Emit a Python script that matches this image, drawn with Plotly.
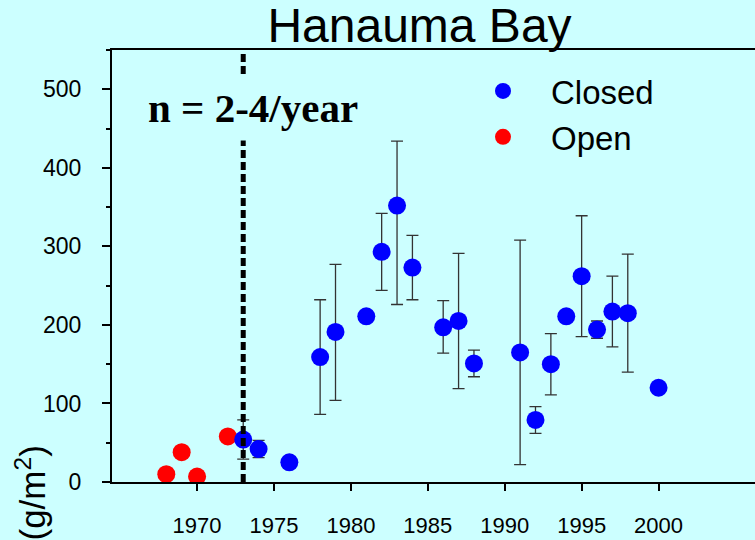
import plotly.graph_objects as go

# ---- data ----
closed_years = [1973, 1974, 1976, 1978, 1979, 1981, 1982, 1983, 1984, 1986, 1987,
                1988, 1991, 1992, 1993, 1994, 1995, 1996, 1997, 1998, 2000]
closed_vals = [54, 42, 25, 159, 191, 211, 293, 352, 273, 197, 205,
               151, 165, 79, 150, 211, 262, 194, 217, 215, 120]
closed_err_plus = [25, 11, 0, 73, 86, 0, 49, 82, 41, 34, 86,
                   17, 143, 17, 39, 0, 77, 11, 45, 75, 0]
closed_err_minus = [25, 11, 0, 73, 87, 0, 49, 126, 41, 33, 86,
                    17, 143, 17, 39, 0, 77, 11, 45, 75, 0]

open_years = [1968, 1969, 1970, 1972]
open_vals = [10, 38, 7, 58]

x_tick_vals = [1970, 1975, 1980, 1985, 1990, 1995, 2000]
y_tick_vals = [0, 100, 200, 300, 400, 500]
closure_year = 1973

BG = "#CCFFFF"
SANS = "Liberation Sans, Arial, sans-serif"
SERIF = "Liberation Serif, Times New Roman, serif"

fig = go.Figure()

fig.add_trace(go.Scatter(
    x=open_years, y=open_vals, mode="markers", name="Open",
    marker=dict(color="#FF0000", size=18, line=dict(width=0)),
))
fig.add_trace(go.Scatter(
    x=closed_years, y=closed_vals, mode="markers", name="Closed",
    marker=dict(color="#0000FF", size=18, line=dict(width=0)),
    error_y=dict(type="data", symmetric=False, array=closed_err_plus,
                 arrayminus=closed_err_minus, color="#333333",
                 thickness=1.3, width=6),
))

fig.add_shape(type="line", xref="x", yref="y",
              x0=closure_year, x1=closure_year, y0=0, y1=550,
              line=dict(color="black", width=5, dash="8px,4px"),
              layer="above")

fig.add_annotation(
    text="<b>n = 2-4/year</b>", xref="paper", yref="paper",
    x=0.220, y=0.8657, xanchor="center", yanchor="middle",
    showarrow=False, font=dict(family=SERIF, size=41, color="black"),
    bgcolor=BG, borderpad=9,
)

fig.add_annotation(
    text="(g/m<sup>2</sup>)", xref="paper", yref="paper",
    x=(30 - 112) / 643, y=(482 - 443) / 432, xanchor="center", yanchor="top",
    textangle=-90, showarrow=False,
    font=dict(family=SANS, size=35, color="black"),
)

fig.update_layout(
    width=755, height=540,
    paper_bgcolor=BG, plot_bgcolor=BG,
    margin=dict(l=112, r=0, t=50, b=58),
    title=dict(text="Hanauma Bay", x=419.5 / 755, xanchor="center",
               xref="container", yref="container", y=0.985, yanchor="top",
               font=dict(family=SANS, size=48, color="black"), pad=dict(t=0, b=0)),
    showlegend=True,
    legend=dict(x=(455 - 112) / 643, y=(482 - 63) / 432, xanchor="left", yanchor="top",
                xref="paper", yref="paper", bgcolor="rgba(0,0,0,0)",
                font=dict(family=SANS, size=33, color="black"),
                itemwidth=86, traceorder="reversed", borderwidth=0),
    font=dict(family=SANS, color="black"),
)

fig.update_xaxes(
    range=[1964.47, 2006.27], tickvals=x_tick_vals,
    showgrid=False, zeroline=False,
    showline=True, linecolor="black", linewidth=2, mirror=True,
    ticks="outside", ticklen=7, tickwidth=1.5, tickcolor="black",
    ticklabelstandoff=16,
    tickfont=dict(family=SANS, size=22, color="black"),
)
fig.update_yaxes(
    range=[0, 550], tickvals=y_tick_vals,
    showgrid=False, zeroline=False,
    showline=True, linecolor="black", linewidth=2, mirror=False,
    ticks="outside", ticklen=8, tickwidth=1.5, tickcolor="black",
    minor=dict(dtick=50, ticks="outside", ticklen=4, tickwidth=1.5, tickcolor="black"),
    ticklabelstandoff=16,
    tickfont=dict(family=SANS, size=23, color="black"),
)

fig.write_html("out.html", config={"displayModeBar": False},
               post_script="document.body.style.margin='0';document.body.style.overflow='hidden';")
